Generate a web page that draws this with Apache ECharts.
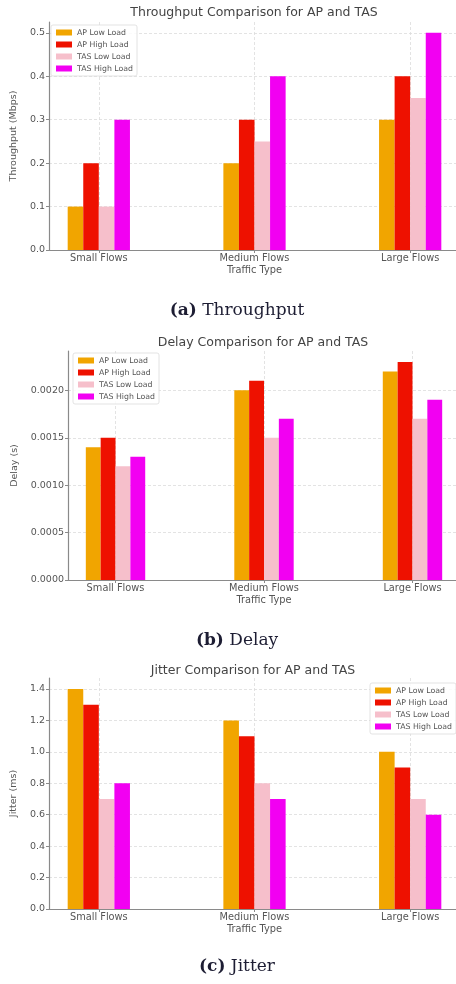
<!DOCTYPE html>
<html>
<head>
<meta charset="utf-8">
<script src="https://cdn.jsdelivr.net/npm/echarts@6/dist/echarts.min.js"></script>
<style>
html, body { margin: 0; padding: 0; background: #fff; }
#chart { width: 456px; height: 984px; }
</style>
</head>
<body>
<div id="chart"></div>
<script>
// shared categories / series
const categories = ['Small Flows', 'Medium Flows', 'Large Flows']
const seriesNames = ['AP Low Load', 'AP High Load', 'TAS Low Load', 'TAS High Load']
const seriesColors = ['#f1a500', '#ee1100', '#f6bfcb', '#f200f2']

// (a) throughput, Mbps
const throughputApLow = [0.1, 0.2, 0.3]
const throughputApHigh = [0.2, 0.3, 0.4]
const throughputTasLow = [0.1, 0.25, 0.35]
const throughputTasHigh = [0.3, 0.4, 0.5]
const throughputTicks = [0, 0.1, 0.2, 0.3, 0.4, 0.5]

// (b) delay, s
const delayApLow = [0.0014, 0.002, 0.0022]
const delayApHigh = [0.0015, 0.0021, 0.0023]
const delayTasLow = [0.0012, 0.0015, 0.0017]
const delayTasHigh = [0.0013, 0.0017, 0.0019]
const delayTicks = [0, 0.0005, 0.001, 0.0015, 0.002]

// (c) jitter, ms
const jitterApLow = [1.4, 1.2, 1.0]
const jitterApHigh = [1.3, 1.1, 0.9]
const jitterTasLow = [0.7, 0.8, 0.7]
const jitterTasHigh = [0.8, 0.7, 0.6]
const jitterTicks = [0, 0.2, 0.4, 0.6, 0.8, 1.0, 1.2, 1.4]

const X_MIN = -0.32
const X_MAX = 2.32
const BAR_UNITS = 0.1

const panels = [
  {
    title: 'Throughput Comparison for AP and TAS', titleX: 254, titleTop: 6,
    caption: '{b|(a)} Throughput', captionTop: 302,
    yName: 'Throughput (Mbps)', yMax: 0.525, ticks: throughputTicks, digits: 1,
    values: [throughputApLow, throughputApHigh, throughputTasLow, throughputTasHigh],
    grid: { left: 49, top: 22, width: 411, height: 228 }, nameGap: 24,
    legend: { left: 51, top: 25 },
  },
  {
    title: 'Delay Comparison for AP and TAS', titleX: 263, titleTop: 336,
    caption: '{b|(b)} Delay', captionTop: 632,
    yName: 'Delay (s)', yMax: 0.002415, ticks: delayTicks, digits: 4,
    values: [delayApLow, delayApHigh, delayTasLow, delayTasHigh],
    grid: { left: 68, top: 351, width: 392, height: 229 }, nameGap: 42,
    legend: { left: 73, top: 353 },
  },
  {
    title: 'Jitter Comparison for AP and TAS', titleX: 253, titleTop: 664,
    caption: '{b|(c)} Jitter', captionTop: 958,
    yName: 'Jitter (ms)', yMax: 1.47, ticks: jitterTicks, digits: 1,
    values: [jitterApLow, jitterApHigh, jitterTasLow, jitterTasHigh],
    grid: { left: 49, top: 678, width: 411, height: 231 }, nameGap: 24,
    legend: { left: 370, top: 683 },
  },
]

const FONT = 'DejaVu Sans'
const axisLineStyle = { color: '#8a8a8a', width: 1.2 }
const gridLineStyle = { color: '#dcdcdc', width: 0.8, type: [3, 2] }

const option = {
  backgroundColor: '#fff',
  animation: false,
  title: [],
  legend: [],
  grid: [],
  xAxis: [],
  yAxis: [],
  series: [],
}

panels.forEach((p, gi) => {
  option.title.push({
    text: p.title,
    left: p.titleX,
    top: p.titleTop,
    textAlign: 'center',
    padding: 0,
    textStyle: { fontFamily: FONT, fontSize: 12.5, fontWeight: 'normal', color: '#444' },
  })
  option.title.push({
    text: p.caption,
    left: 237,
    top: p.captionTop,
    textAlign: 'center',
    padding: 0,
    textStyle: {
      fontFamily: 'DejaVu Serif',
      fontSize: 17,
      fontWeight: 'normal',
      color: '#1d1d33',
      rich: { b: { fontFamily: 'DejaVu Serif', fontSize: 17, fontWeight: 'bold', color: '#1d1d33' } },
    },
  })

  option.legend.push({
    orient: 'vertical',
    left: p.legend.left,
    top: p.legend.top,
    data: seriesNames,
    icon: 'rect',
    itemWidth: 16,
    itemHeight: 6,
    itemGap: 3,
    padding: [3, 4, 3, 5],
    borderColor: '#dcdcdc',
    borderWidth: 0.8,
    borderRadius: 2,
    backgroundColor: 'rgba(255,255,255,0.85)',
    selectedMode: false,
    textStyle: { fontFamily: FONT, fontSize: 7.8, color: '#555', lineHeight: 9 },
  })

  option.grid.push({ ...p.grid, outerBoundsMode: 'none', containLabel: false })

  option.xAxis.push({
    type: 'value',
    gridIndex: gi,
    min: X_MIN,
    max: X_MAX,
    name: 'Traffic Type',
    nameLocation: 'middle',
    nameGap: 15,
    nameTextStyle: { fontFamily: FONT, fontSize: 9.8, color: '#555' },
    axisLine: { show: true, onZero: false, lineStyle: axisLineStyle },
    axisTick: { show: true, length: 3, customValues: [0, 1, 2], lineStyle: { color: '#8a8a8a' } },
    axisLabel: {
      customValues: [0, 1, 2],
      margin: 3,
      fontFamily: FONT,
      fontSize: 9.8,
      color: '#555',
      formatter: v => categories[Math.round(v)] ?? '',
    },
    splitLine: { show: true, lineStyle: gridLineStyle },
  })

  option.yAxis.push({
    type: 'value',
    gridIndex: gi,
    min: 0,
    max: p.yMax,
    name: p.yName,
    nameLocation: 'middle',
    nameGap: p.nameGap,
    nameTextStyle: { fontFamily: FONT, fontSize: 9.5, color: '#555' },
    axisLine: { show: true, onZero: false, lineStyle: axisLineStyle },
    axisTick: { show: true, length: 3, customValues: p.ticks, lineStyle: { color: '#8a8a8a' } },
    axisLabel: {
      customValues: p.ticks,
      margin: 4,
      fontFamily: FONT,
      fontSize: 9.5,
      color: '#555',
      formatter: v => v.toFixed(p.digits),
    },
    splitLine: { show: true, lineStyle: gridLineStyle },
  })

  const barWidth = p.grid.width / (X_MAX - X_MIN) * BAR_UNITS
  p.values.forEach((vals, si) => {
    option.series.push({
      type: 'bar',
      name: seriesNames[si],
      xAxisIndex: gi,
      yAxisIndex: gi,
      barWidth,
      barGap: '0%',
      itemStyle: { color: seriesColors[si] },
      data: vals.map((v, i) => [i, v]),
    })
  })
})

const chart = echarts.init(document.getElementById('chart'), null, { renderer: 'canvas' })
chart.setOption(option)
</script>
</body>
</html>
